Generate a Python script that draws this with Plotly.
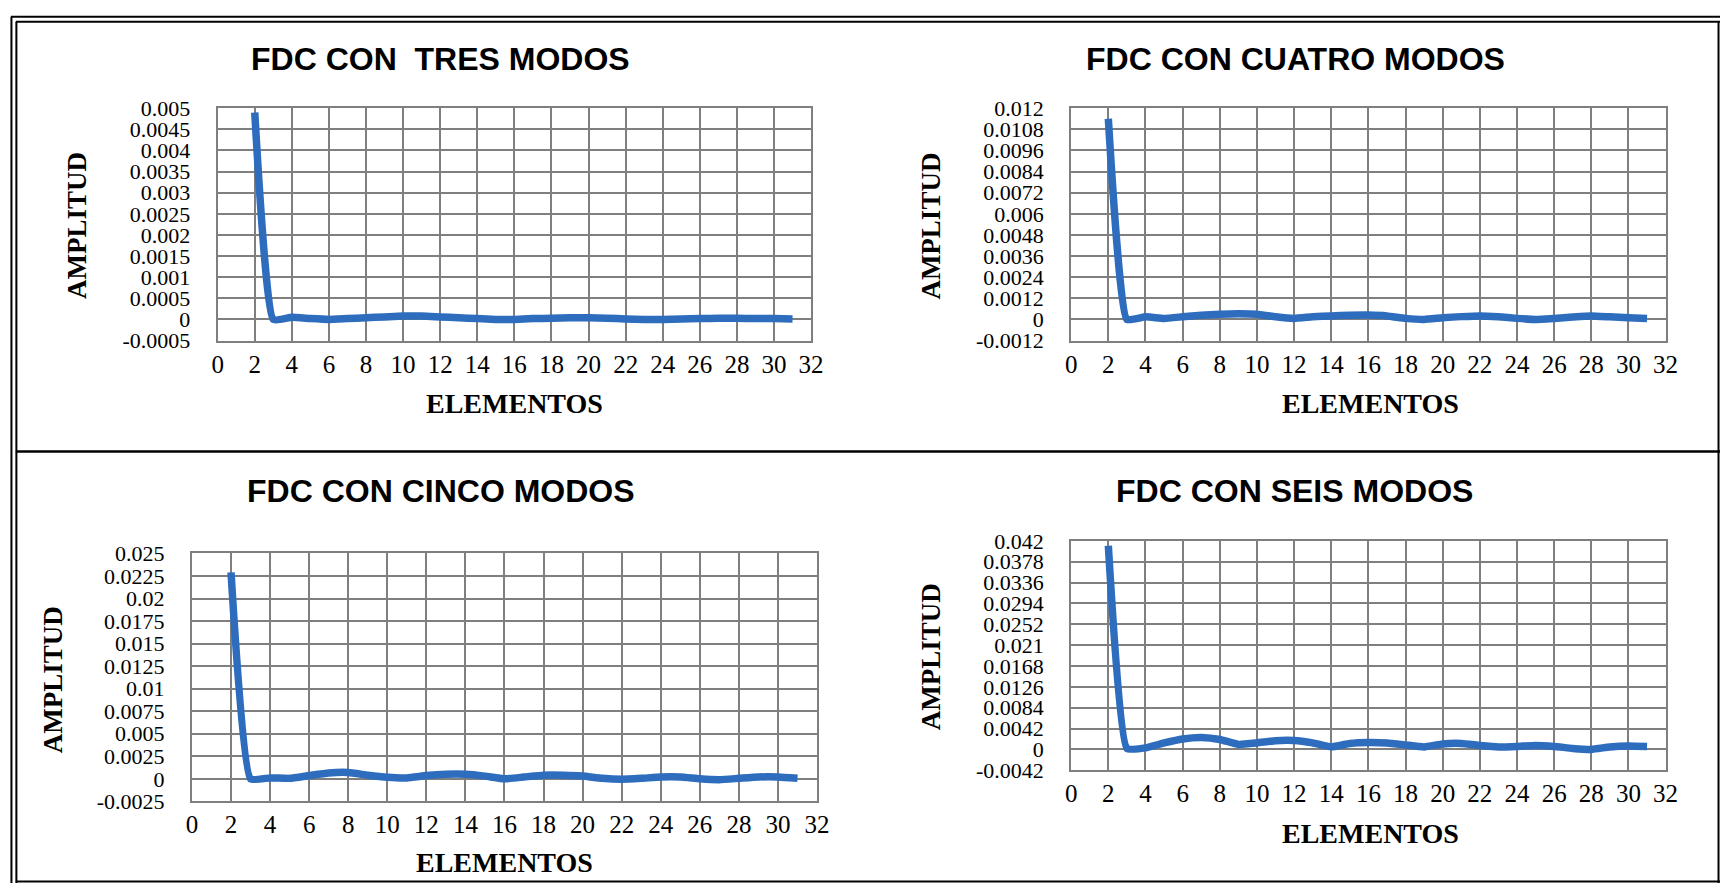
import plotly.graph_objects as go

W, H = 1733, 896

# ---------------- data ----------------
elementos = list(range(2, 32))

amp_tres = [0.0049, 0.0000, 0.00005, 0.00002, 0.0, 0.00002, 0.00004, 0.00006, 0.00008, 0.00008,
            0.00006, 0.00004, 0.00002, 0.0, 0.0, 0.00002, 0.00003, 0.00004, 0.00004, 0.00003,
            0.00001, 0.0, 0.0, 0.00001, 0.00002, 0.00003, 0.00003, 0.00002, 0.00002, 0.00001]

amp_cuatro = [0.0114, 0.0000, 0.00015, 0.00006, 0.00015, 0.00024, 0.0003, 0.00033, 0.0003, 0.00015,
              0.00006, 0.00015, 0.0002, 0.00024, 0.00025, 0.0002, 0.00006, 0.0, 0.0001, 0.00016,
              0.0002, 0.00015, 0.00006, 0.0, 0.00006, 0.00014, 0.0002, 0.00015, 0.0001, 0.00006]

amp_cinco = [0.0229, 0.0000, 0.0001, 0.00005, 0.00036, 0.00065, 0.0007, 0.0004, 0.00017, 0.0001,
             0.00036, 0.0005, 0.0005, 0.0003, 0.0, 0.0002, 0.0004, 0.0004, 0.0003, 0.00005,
             -0.00005, 0.00005, 0.0002, 0.0002, 0.0, -0.0001, 0.00005, 0.0002, 0.0002, 0.00005]

amp_seis = [0.0410, 0.0002, 0.0003, 0.0013, 0.0021, 0.0024, 0.0020, 0.0010, 0.0013, 0.00176,
            0.0018, 0.0013, 0.0005, 0.0012, 0.0014, 0.0013, 0.0009, 0.0005, 0.0011, 0.0012,
            0.0008, 0.0005, 0.0006, 0.0008, 0.0006, 0.0002, 0.0, 0.0005, 0.0007, 0.0006]

titles = ["FDC CON \u00a0TRES MODOS", "FDC CON CUATRO MODOS", "FDC CON CINCO MODOS", "FDC CON SEIS MODOS"]
x_title = "ELEMENTOS"
y_title = "AMPLITUD"

x_ticks = list(range(0, 33, 2))
x_tick_labels = [str(v) for v in x_ticks]

y_ticks_tres = [-0.0005, 0, 0.0005, 0.001, 0.0015, 0.002, 0.0025, 0.003, 0.0035, 0.004, 0.0045, 0.005]
y_labels_tres = ["-0.0005", "0", "0.0005", "0.001", "0.0015", "0.002", "0.0025", "0.003", "0.0035",
                 "0.004", "0.0045", "0.005"]
y_ticks_cuatro = [-0.0012, 0, 0.0012, 0.0024, 0.0036, 0.0048, 0.006, 0.0072, 0.0084, 0.0096, 0.0108, 0.012]
y_labels_cuatro = ["-0.0012", "0", "0.0012", "0.0024", "0.0036", "0.0048", "0.006", "0.0072", "0.0084",
                   "0.0096", "0.0108", "0.012"]
y_ticks_cinco = [-0.0025, 0, 0.0025, 0.005, 0.0075, 0.01, 0.0125, 0.015, 0.0175, 0.02, 0.0225, 0.025]
y_labels_cinco = ["-0.0025", "0", "0.0025", "0.005", "0.0075", "0.01", "0.0125", "0.015", "0.0175",
                  "0.02", "0.0225", "0.025"]
y_ticks_seis = [-0.0042, 0, 0.0042, 0.0084, 0.0126, 0.0168, 0.021, 0.0252, 0.0294, 0.0336, 0.0378, 0.042]
y_labels_seis = ["-0.0042", "0", "0.0042", "0.0084", "0.0126", "0.0168", "0.021", "0.0252", "0.0294",
                 "0.0336", "0.0378", "0.042"]

series = [amp_tres, amp_cuatro, amp_cinco, amp_seis]
yticks = [y_ticks_tres, y_ticks_cuatro, y_ticks_cinco, y_ticks_seis]
ylabels = [y_labels_tres, y_labels_cuatro, y_labels_cinco, y_labels_seis]

# ---------------- layout geometry (pixels of the 1733x896 page) ----------------
boxes = [(214, 814, 99, 338), (1077, 1678, 99, 338), (188, 820, 557, 812), (1077, 1678, 544, 780)]
title_pos = [(439, 48), (1304, 48), (440, 493), (1303, 493)]
ytitle_pos = [(72, 220), (935, 220), (47, 687), (935, 663)]
xtitle_pos = [(514, 403), (1380, 403), (504, 875), (1380, 845)]

LINE_COLOR = "#2E6DBD"
GRID = "#7F7F7F"
SERIF = "Liberation Serif, Times New Roman, serif"
SANS = "Liberation Sans, Arial, sans-serif"

fig = go.Figure()
layout = dict(width=W, height=H, margin=dict(l=0, r=0, t=0, b=0, pad=0),
              paper_bgcolor="white", plot_bgcolor="white", showlegend=False)

annotations = []
shapes = []

for i in range(4):
    n = "" if i == 0 else str(i + 1)
    l, r, t, b = boxes[i]
    fig.add_trace(go.Scatter(x=elementos, y=series[i], mode="lines",
                             line=dict(color=LINE_COLOR, width=7.5, shape="spline", smoothing=0.4),
                             xaxis="x" + n, yaxis="y" + n, hoverinfo="skip"))
    layout["xaxis" + n] = dict(domain=[l / W, r / W], anchor="y" + n, range=[0, 32],
                               tickvals=x_ticks, ticktext=x_tick_labels,
                               showgrid=True, gridcolor=GRID, gridwidth=2,
                               showline=True, linecolor=GRID, linewidth=2, mirror=True,
                               zeroline=False, ticks="", ticklabelstandoff=0,
                               tickfont=dict(family=SERIF, size=25, color="#000"))
    yt = yticks[i]
    layout["yaxis" + n] = dict(domain=[1 - b / H, 1 - t / H], anchor="x" + n, range=[yt[0], yt[-1]],
                               tickvals=yt, ticktext=ylabels[i],
                               showgrid=True, gridcolor=GRID, gridwidth=2,
                               showline=True, linecolor=GRID, linewidth=2, mirror=True,
                               zeroline=False, ticks="", ticklabelstandoff=21,
                               tickfont=dict(family=SERIF, size=22, color="#000"))
    tx, ty = title_pos[i]
    annotations.append(dict(x=tx / W, y=1 - ty / H, xref="paper", yref="paper", showarrow=False,
                            text="<b>" + titles[i] + "</b>", xanchor="center", yanchor="middle",
                            font=dict(family=SANS, size=32, color="#000")))
    ax_, ay_ = ytitle_pos[i]
    annotations.append(dict(x=ax_ / W, y=1 - ay_ / H, xref="paper", yref="paper", showarrow=False,
                            text="<b>" + y_title + "</b>", textangle=-90, xanchor="center", yanchor="middle",
                            font=dict(family=SERIF, size=27, color="#000")))
    ex, ey = xtitle_pos[i]
    annotations.append(dict(x=ex / W, y=1 - ey / H, xref="paper", yref="paper", showarrow=False,
                            text="<b>" + x_title + "</b>", xanchor="center", yanchor="middle",
                            font=dict(family=SERIF, size=28, color="#000")))

def hline(y, x0, x1, w=2):
    shapes.append(dict(type="line", xref="paper", yref="paper", x0=x0 / W, x1=x1 / W,
                       y0=1 - y / H, y1=1 - y / H, line=dict(color="#000", width=w)))

def vline(x, y0, y1, w=2):
    shapes.append(dict(type="line", xref="paper", yref="paper", x0=x / W, x1=x / W,
                       y0=1 - y0 / H, y1=1 - y1 / H, line=dict(color="#000", width=w)))

# frame: double line top and left, single right/bottom, middle divider
hline(5, 5, W)
hline(10, 10, W)
vline(5.5, 5, H)
vline(10.5, 10, H)
vline(1731.5, 10, H)
hline(894.5, 10, W)
hline(452, 10, W, 2.5)

layout["annotations"] = annotations
layout["shapes"] = shapes
fig.update_layout(**layout)

post = ("document.documentElement.style.margin='0';document.documentElement.style.overflow='hidden';"
        "document.body.style.margin='0';document.body.style.padding='0';document.body.style.overflow='hidden';")
fig.write_html("out.html", config={"displayModeBar": False}, post_script=post)
